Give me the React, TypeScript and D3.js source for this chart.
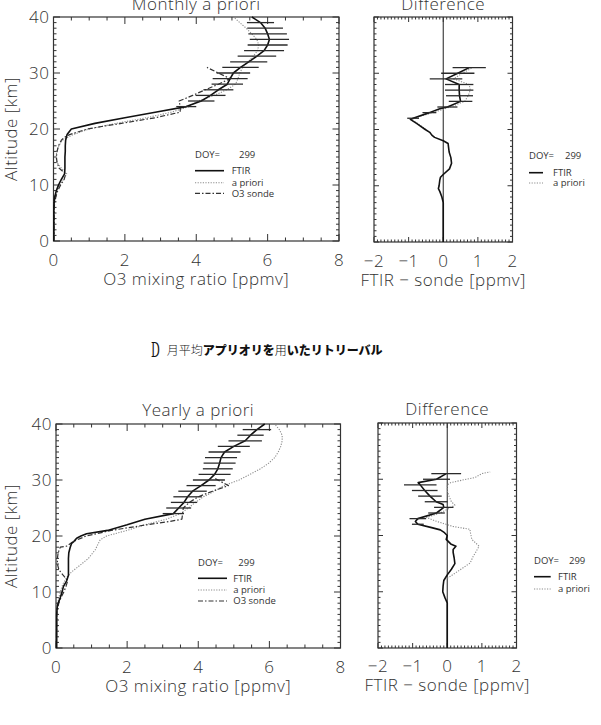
import React from "react";
import * as d3 from "d3";

type Pt = [number, number]; // [altitude km, value]

const DOY = 299;
const profileTickValues = [0, 2, 4, 6, 8];
const diffTickValues = [-2, -1, 0, 1, 2];
const altitudeTickValues = [0, 10, 20, 30, 40];
const profileLegend = ["FTIR", "a priori", "O3 sonde"];
const diffLegend = ["FTIR", "a priori"];
const captionParts: { text: string; bold: boolean }[] = [
  { text: "月平均", bold: false },
  { text: "アプリオリを", bold: true },
  { text: "用", bold: false },
  { text: "いたリトリーバル", bold: true },
];

// ---- Monthly a priori retrieval: O3 mixing ratio [ppmv] vs altitude [km]
const monthlyFtir: Pt[] = [
  [0, 0.01], [6, 0.01], [7, 0.02], [8, 0.04], [9, 0.08], [10, 0.14], [11, 0.22],
  [12, 0.31], [13, 0.32], [14, 0.32], [15, 0.32], [16, 0.33], [17, 0.33], [18, 0.34],
  [19, 0.38], [20, 0.5], [21, 1.16], [22, 2.0], [23, 2.85], [24, 3.72], [25, 4.14],
  [26, 4.4], [27, 4.62], [28, 4.87], [29, 4.95], [30, 5.04], [31, 5.24], [32, 5.47],
  [33, 5.7], [34, 5.9], [35, 6.0], [36, 6.05], [37, 6.0], [38, 5.93], [39, 5.8], [40, 5.56],
];
const monthlyApriori: Pt[] = [
  [0, 0.01], [7, 0.02], [8, 0.04], [9, 0.09], [10, 0.17], [11, 0.28], [12, 0.37],
  [13, 0.22], [14, 0.1], [15, 0.07], [16, 0.09], [17, 0.15], [18, 0.25], [19, 0.55],
  [20, 1.0], [21, 1.75], [22, 2.6], [23, 3.3], [24, 3.8], [25, 4.05], [26, 4.5],
  [27, 4.85], [28, 5.1], [29, 5.17], [30, 5.22], [31, 5.3], [32, 5.45], [33, 5.6],
  [34, 5.72], [35, 5.75], [36, 5.7], [37, 5.55], [38, 5.4], [39, 5.22], [40, 5.05],
];
const monthlySonde: Pt[] = [
  [0, 0.01], [6, 0.02], [7, 0.04], [8, 0.07], [9, 0.12], [10, 0.2], [11, 0.3],
  [12, 0.34], [13, 0.16], [14, 0.1], [15, 0.08], [16, 0.1], [17, 0.14], [18, 0.22],
  [18.5, 0.3], [19, 0.45], [20, 0.95], [20.5, 1.4], [21, 1.9], [22, 2.84], [23, 3.55],
  [24, 3.55], [25, 3.52], [26, 3.9], [27, 4.25], [28, 4.62], [29, 4.95], [30, 4.62], [31, 4.3],
];
const monthlyErrAlt = [24, 25, 26, 27, 28, 29, 30, 31, 32, 33, 34, 35, 36, 37, 38, 39];
const monthlyErr = [0.28, 0.37, 0.42, 0.42, 0.44, 0.49, 0.47, 0.51, 0.52, 0.54, 0.56, 0.56, 0.55, 0.54, 0.5, 0.38];

// ---- Monthly difference FTIR - sonde [ppmv]
const monthlyDiffFtir: Pt[] = [
  [0, 0], [7, 0], [8, -0.04], [9, -0.1], [9.5, -0.14], [10, -0.12], [11, -0.1],
  [11.5, -0.08], [12, 0.0], [13, 0.18], [14, 0.24], [15, 0.22], [16, 0.17], [17, 0.15],
  [17.5, 0.14], [18, 0.0], [18.6, -0.25], [19, -0.33], [19.5, -0.39], [20, -0.52],
  [20.7, -0.68], [21, -0.75], [21.8, -0.95], [22, -0.87], [23, -0.4], [23.7, -0.1],
  [24, 0.12], [25, 0.5], [26, 0.47], [27, 0.46], [28, 0.46], [29, 0.08], [30, 0.42], [31, 0.75],
];
const monthlyDiffApriori: Pt[] = [
  [20, -0.5], [21, -0.72], [21.8, -0.9], [22, -0.85], [23, -0.3], [24, 0.2], [25, 0.62],
  [26, 0.72], [27, 0.78], [28, 0.75], [29, 0.3], [30, 0.55], [31, 0.85],
];
const monthlyDiffErrAlt = [22, 23, 24, 25, 26, 27, 28, 29, 30, 31];
const monthlyDiffErr = [0.17, 0.2, 0.29, 0.34, 0.39, 0.41, 0.41, 0.47, 0.48, 0.48];

// ---- Yearly a priori retrieval
const yearlyFtir: Pt[] = [
  [0, 0.02], [6, 0.02], [7, 0.03], [7.5, 0.04], [8, 0.06], [9, 0.12], [10, 0.17],
  [11, 0.21], [12, 0.3], [13, 0.35], [14, 0.35], [15, 0.35], [16, 0.35], [17, 0.36],
  [18, 0.4], [18.7, 0.44], [19, 0.5], [19.6, 0.58], [20, 0.7], [20.4, 0.86], [21, 1.45],
  [22, 2.0], [23, 2.5], [24, 3.3], [25, 3.45], [26, 3.6], [27, 3.7], [28, 3.84],
  [29, 4.08], [30, 4.3], [31, 4.46], [32, 4.55], [33, 4.6], [34, 4.64], [35, 4.74],
  [36, 5.0], [37, 5.32], [38, 5.47], [39, 5.65], [40, 5.87],
];
const yearlyApriori: Pt[] = [
  [0, 0.01], [7, 0.03], [8, 0.05], [9, 0.08], [10, 0.12], [11, 0.17], [11.5, 0.2],
  [12.6, 0.3], [13.6, 0.44], [14.8, 0.68], [16, 0.91], [17.5, 1.1], [19.3, 1.24],
  [20, 1.42], [20.5, 1.71], [21, 2.0], [22, 2.5], [23, 3.1], [24, 3.5], [25, 3.72],
  [26, 3.92], [27, 4.15], [28, 4.45], [29, 4.72], [29.3, 4.85], [30, 5.15], [31, 5.45],
  [32, 5.75], [33, 5.98], [34, 6.15], [35, 6.25], [36, 6.32], [37, 6.36], [38, 6.36],
  [39, 6.28], [40, 6.15],
];
const yearlySonde: Pt[] = [
  [0, 0.01], [6, 0.02], [7, 0.04], [8, 0.08], [9, 0.14], [10, 0.22], [11, 0.28],
  [12, 0.33], [13, 0.2], [14, 0.08], [15, 0.04], [16, 0.04], [17, 0.06], [18, 0.12],
  [18.2, 0.3], [19, 0.48], [20, 0.85], [21, 1.55], [22, 2.55], [22.6, 3.2], [23, 3.54],
  [24, 3.56], [25, 3.58], [26, 3.75], [27, 4.0], [28, 4.4], [29, 4.85], [29.5, 4.7],
  [30, 4.55], [30.4, 4.43],
];
const yearlyErrAlt = [24, 25, 26, 27, 28, 29, 30, 31, 32, 33, 34, 35, 36, 37, 38, 39];
const yearlyErr = [0.3, 0.35, 0.37, 0.4, 0.4, 0.41, 0.45, 0.45, 0.42, 0.45, 0.45, 0.45, 0.45, 0.47, 0.37, 0.4];

// ---- Yearly difference FTIR - sonde [ppmv]
const yearlyDiffFtir: Pt[] = [
  [0, 0], [8, 0], [9, -0.07], [10, -0.13], [11, -0.12], [12, -0.1], [13, 0], [14, 0.12],
  [15, 0.22], [16, 0.2], [17, 0.17], [17.5, 0.17], [18.1, 0.25], [18.5, 0.1], [19.3, -0.03],
  [20, 0], [20.5, -0.08], [21, -0.2], [21.4, -0.45], [22, -0.85], [22.5, -0.92], [23, -0.85],
  [24, -0.31], [25, -0.1], [25.5, -0.12], [26, -0.32], [27, -0.5], [28, -0.65], [29, -0.78],
  [29.4, -0.84], [30, -0.31], [31, -0.03],
];
const yearlyDiffApriori: Pt[] = [
  [12.4, 0], [12.7, 0.08], [13.9, 0.37], [15.1, 0.66], [16.3, 0.75], [17, 0.82],
  [18.1, 0.92], [19.3, 0.71], [20.8, 0.66], [21.1, 0.66], [21.6, 0.17], [22.5, -0.3],
  [23.2, -0.6], [24, -0.2], [25, 0.1], [25.4, 0.22], [26, 0.12], [27, 0.05], [28, 0],
  [29, 0], [29.4, 0.1], [30, 0.55], [30.3, 0.8], [31, 1.0], [31.3, 1.24],
];
const yearlyDiffErrAlt = [22, 23, 24, 25, 26, 27, 28, 29, 30, 31];
const yearlyDiffErr = [0.17, 0.24, 0.24, 0.28, 0.33, 0.34, 0.37, 0.47, 0.39, 0.43];

type Kind = "ftir" | "apriori" | "sonde";
const STYLE: Record<Kind, { stroke: string; width: number; dash?: string }> = {
  ftir: { stroke: "#111", width: 1.6 },
  apriori: { stroke: "#8c8c8c", width: 1.1, dash: "1.2 1.4" },
  sonde: { stroke: "#333", width: 1.2, dash: "5 2 1.5 2" },
};

const FONT = "'Open Sans', 'DejaVu Sans', sans-serif";
const INK = "#333";

interface PanelProps {
  x0: number; x1: number; y0: number; y1: number;
  xDomain: [number, number];
  xTicks: number[];
  xMinorStep: number;
  xMajorLen: number; xMinorLen: number;
  yMajorLen: number; yMinorLen: number;
  title: string; titleY: number;
  xLabel: string; xLabelY: number; tickLabelY: number;
  yLabels: boolean;
  lines: { data: Pt[]; kind: Kind }[];
  barAlt: number[]; barErr: number[]; barCentre: Pt[];
  zeroLine?: boolean;
}

function fmt(v: number) {
  return v < 0 ? "\u2212" + Math.abs(v) : String(v);
}

function Panel(p: PanelProps) {
  const x = d3.scaleLinear().domain(p.xDomain).range([p.x0, p.x1]);
  const y = d3.scaleLinear().domain([0, 40]).range([p.y1, p.y0]);
  const line = d3.line<Pt>().x((d) => x(d[1])).y((d) => y(d[0]));
  const minorX = d3.range(p.xDomain[0], p.xDomain[1] + 1e-9, p.xMinorStep);
  const minorY = d3.range(0, 40.0001, 1);
  const cx = (p.x0 + p.x1) / 2;
  const isMajorX = (v: number) => p.xTicks.some((t) => Math.abs(t - v) < 1e-6);

  return (
    <g>
      {/* tick marks on all four sides, pointing inward */}
      {minorX.map((v, i) => {
        const len = isMajorX(v) ? p.xMajorLen : p.xMinorLen;
        return (
          <g key={"xt" + i} stroke={INK} strokeWidth={1}>
            <line x1={x(v)} x2={x(v)} y1={p.y1} y2={p.y1 - len} />
            <line x1={x(v)} x2={x(v)} y1={p.y0} y2={p.y0 + len} />
          </g>
        );
      })}
      {minorY.map((a, i) => {
        const len = a % 10 === 0 ? p.yMajorLen : p.yMinorLen;
        return (
          <g key={"yt" + i} stroke={INK} strokeWidth={1}>
            <line x1={p.x0} x2={p.x0 + len} y1={y(a)} y2={y(a)} />
            <line x1={p.x1} x2={p.x1 - len} y1={y(a)} y2={y(a)} />
          </g>
        );
      })}
      <rect x={p.x0} y={p.y0} width={p.x1 - p.x0} height={p.y1 - p.y0} fill="none" stroke={INK} strokeWidth={1.2} />
      {p.zeroLine && <line x1={x(0)} x2={x(0)} y1={p.y0} y2={p.y1} stroke={INK} strokeWidth={1.1} />}

      {p.lines.map((s, i) => (
        <path key={"l" + i} d={line(s.data) || ""} fill="none" stroke={STYLE[s.kind].stroke}
          strokeWidth={STYLE[s.kind].width} strokeDasharray={STYLE[s.kind].dash} strokeLinejoin="round" />
      ))}
      {p.barAlt.map((a, i) => {
        const c = p.barCentre.find((d) => d[0] === a);
        const v = c ? c[1] : 0;
        return (
          <line key={"b" + i} x1={x(v - p.barErr[i])} x2={x(v + p.barErr[i])} y1={y(a)} y2={y(a)}
            stroke="#2a2a2a" strokeWidth={1.3} />
        );
      })}

      <g fontFamily={FONT} fontWeight={300} fill={INK} fontSize={17} letterSpacing={0.5}>
        <text x={cx} y={p.titleY} textAnchor="middle">{p.title}</text>
        {p.xTicks.map((t) => (
          <text key={"xl" + t} x={x(t)} y={p.tickLabelY} textAnchor="middle">{fmt(t)}</text>
        ))}
        {p.yLabels && altitudeTickValues.map((a) => (
          <text key={"yl" + a} x={p.x0 - 4} y={y(a) + 6} textAnchor="end">{a}</text>
        ))}
        <text x={cx} y={p.xLabelY} textAnchor="middle">{p.xLabel}</text>
        {p.yLabels && (
          <text transform={`translate(17,${(p.y0 + p.y1) / 2}) rotate(-90)`} textAnchor="middle">
            Altitude [km]
          </text>
        )}
      </g>
    </g>
  );
}

interface LegendProps {
  x: number; doyY: number; doyValueX: number;
  rows: number[]; lineX1: number; textX: number;
  labels: string[];
}

const KINDS: Kind[] = ["ftir", "apriori", "sonde"];

function Legend(p: LegendProps) {
  return (
    <g fontFamily={FONT} fontSize={9.5} fill={INK}>
      <text x={p.x} y={p.doyY}>DOY=</text>
      <text x={p.doyValueX} y={p.doyY}>{DOY}</text>
      {p.labels.map((lab, i) => {
        const s = STYLE[KINDS[i]];
        return (
          <g key={lab}>
            <line x1={p.x} x2={p.lineX1} y1={p.rows[i]} y2={p.rows[i]} stroke={s.stroke}
              strokeWidth={s.width} strokeDasharray={s.dash} />
            <text x={p.textX} y={p.rows[i] + 3.3}>{lab}</text>
          </g>
        );
      })}
    </g>
  );
}

function Caption({ x, y, charW }: { x: number; y: number; charW: number }) {
  let cursor = x + 15.7;
  return (
    <g fill="#111">
      <text transform={`translate(${x},${y + 2}) scale(0.55,1)`} fontFamily="'DejaVu Serif', serif"
        fontSize={20}>D</text>
      {captionParts.map((part, i) => {
        const px = cursor;
        cursor += part.text.length * charW;
        return (
          <text key={i} x={px} y={y} fontFamily="'Noto Sans CJK JP', sans-serif" fontSize={charW}
            fontWeight={part.bold ? 900 : 300}>{part.text}</text>
        );
      })}
    </g>
  );
}

export default function App() {
  return (
    <svg width={601} height={725} viewBox="0 0 601 725"
      style={{ position: "absolute", left: 0, top: 0, background: "#fff" }}>
      <rect width={601} height={725} fill="#fff" />

      {/* Monthly a priori */}
      <Panel x0={53.5} x1={339} y0={17} y1={241} xDomain={[0, 8]} xTicks={profileTickValues}
        xMinorStep={0.5} xMajorLen={7} xMinorLen={3.5} yMajorLen={6.5} yMinorLen={3}
        title="Monthly a priori" titleY={9.5} xLabel="O3 mixing ratio [ppmv]" xLabelY={285}
        tickLabelY={266} yLabels
        lines={[
          { data: monthlyApriori, kind: "apriori" },
          { data: monthlySonde, kind: "sonde" },
          { data: monthlyFtir, kind: "ftir" },
        ]}
        barAlt={monthlyErrAlt} barErr={monthlyErr} barCentre={monthlyFtir} />
      <Panel x0={374} x1={512.5} y0={17} y1={242} xDomain={[-2, 2]} xTicks={diffTickValues}
        xMinorStep={0.1} xMajorLen={5} xMinorLen={2.5} yMajorLen={5} yMinorLen={2.5}
        title="Difference" titleY={9.5} xLabel="FTIR − sonde [ppmv]" xLabelY={286}
        tickLabelY={267} yLabels={false} zeroLine
        lines={[
          { data: monthlyDiffApriori, kind: "apriori" },
          { data: monthlyDiffFtir, kind: "ftir" },
        ]}
        barAlt={monthlyDiffErrAlt} barErr={monthlyDiffErr} barCentre={monthlyDiffFtir} />
      <Legend x={195} doyY={158} doyValueX={239} rows={[170.7, 182.7, 193.3]} lineX1={224}
        textX={231.7} labels={profileLegend} />
      <Legend x={529} doyY={159} doyValueX={565} rows={[172.7, 183]} lineX1={543}
        textX={553} labels={diffLegend} />

      <Caption x={151} y={355} charW={12} />

      {/* Yearly a priori */}
      <Panel x0={56} x1={340.5} y0={424} y1={648} xDomain={[0, 8]} xTicks={profileTickValues}
        xMinorStep={0.5} xMajorLen={7} xMinorLen={3.5} yMajorLen={6.5} yMinorLen={3}
        title="Yearly a priori" titleY={416} xLabel="O3 mixing ratio [ppmv]" xLabelY={692}
        tickLabelY={673} yLabels
        lines={[
          { data: yearlyApriori, kind: "apriori" },
          { data: yearlySonde, kind: "sonde" },
          { data: yearlyFtir, kind: "ftir" },
        ]}
        barAlt={yearlyErrAlt} barErr={yearlyErr} barCentre={yearlyFtir} />
      <Panel x0={378} x1={516.5} y0={423} y1={648} xDomain={[-2, 2]} xTicks={diffTickValues}
        xMinorStep={0.1} xMajorLen={5} xMinorLen={2.5} yMajorLen={5} yMinorLen={2.5}
        title="Difference" titleY={415} xLabel="FTIR − sonde [ppmv]" xLabelY={691}
        tickLabelY={672} yLabels={false} zeroLine
        lines={[
          { data: yearlyDiffApriori, kind: "apriori" },
          { data: yearlyDiffFtir, kind: "ftir" },
        ]}
        barAlt={yearlyDiffErrAlt} barErr={yearlyDiffErr} barCentre={yearlyDiffFtir} />
      <Legend x={198} doyY={566} doyValueX={238.3} rows={[578.3, 590, 601]} lineX1={227}
        textX={233.3} labels={profileLegend} />
      <Legend x={534} doyY={563.5} doyValueX={569} rows={[576.7, 589]} lineX1={550.7}
        textX={558} labels={diffLegend} />
    </svg>
  );
}
